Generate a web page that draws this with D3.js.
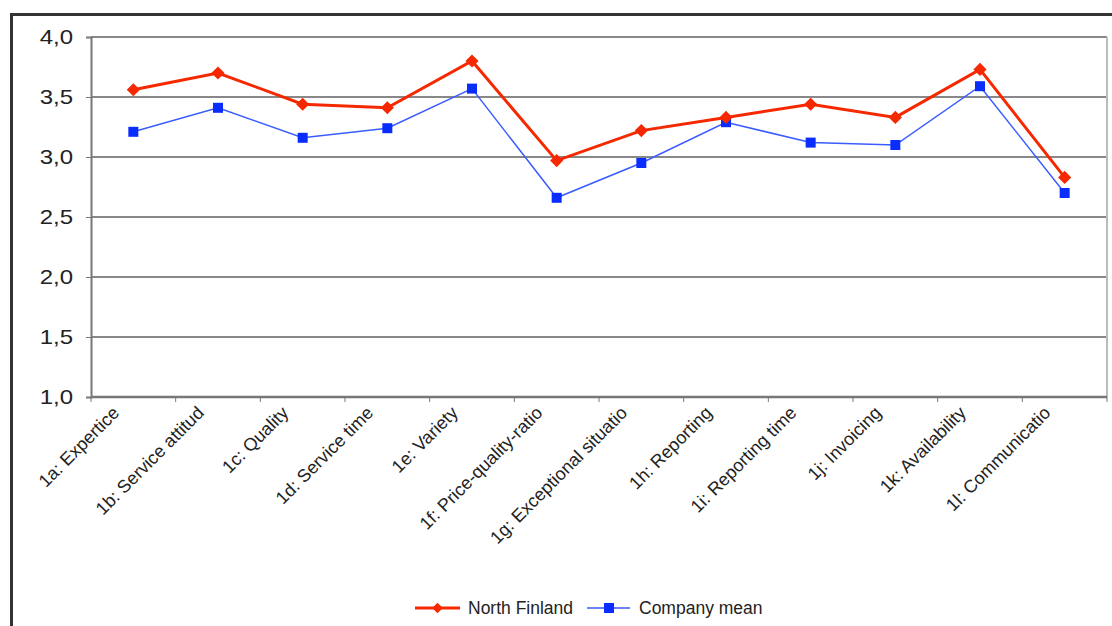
<!DOCTYPE html>
<html>
<head>
<meta charset="utf-8">
<script src="https://d3js.org/d3.v7.min.js"></script>
<style>
  body { margin: 0; background: #fff; }
  text { font-family: "Liberation Sans", Arial, sans-serif; fill: #222; }
</style>
</head>
<body>
<div id="chart"></div>
<script>
// categories and series
var categories = ["1a: Expertice", "1b: Service attitud", "1c: Quality", "1d: Service time",
  "1e: Variety", "1f: Price-quality-ratio", "1g: Exceptional situatio", "1h: Reporting",
  "1i: Reporting time", "1j: Invoicing", "1k: Availability", "1l: Communicatio"];
var northFinland = [3.56, 3.70, 3.44, 3.41, 3.80, 2.97, 3.22, 3.33, 3.44, 3.33, 3.73, 2.83];
var companyMean = [3.21, 3.41, 3.16, 3.24, 3.57, 2.66, 2.95, 3.29, 3.12, 3.10, 3.59, 2.70];
var yTicks = [1.0, 1.5, 2.0, 2.5, 3.0, 3.5, 4.0];

var svgWidth = 1112, svgHeight = 626;
var margin = { top: 37, right: 5, bottom: 229, left: 91 };
var width = svgWidth - margin.left - margin.right;
var height = svgHeight - margin.top - margin.bottom;

var svg = d3.select("#chart").append("svg")
  .attr("width", svgWidth)
  .attr("height", svgHeight);

// outer frame (top and left edges visible)
svg.append("path")
  .attr("d", "M11.5,626 V14.5 H1112")
  .attr("fill", "none")
  .attr("stroke", "#333")
  .attr("stroke-width", 3);

var g = svg.append("g")
  .attr("transform", `translate(${margin.left}, ${margin.top})`);

var x = d3.scaleBand().domain(categories).range([0, width]);
var y = d3.scaleLinear().domain([1, 4]).range([height, 0]);
var cx = d => x(d) + x.bandwidth() / 2;

// grid lines
g.selectAll(".grid")
  .data(yTicks)
  .enter()
  .append("line")
  .attr("x1", 0).attr("x2", width)
  .attr("y1", d => y(d)).attr("y2", d => y(d))
  .attr("stroke", "#888")
  .attr("stroke-width", 2);

// right border of plot area
g.append("line")
  .attr("x1", width).attr("x2", width)
  .attr("y1", 0).attr("y2", height)
  .attr("stroke", "#bbb")
  .attr("stroke-width", 2);

// y axis (labels a bit wide, like the original)
var leftAxis = d3.axisLeft(y)
  .tickValues(yTicks)
  .tickSize(5)
  .tickFormat(d => d3.format(".1f")(d).replace(".", ","));
var yAxis = g.append("g").call(leftAxis);
yAxis.select(".domain").attr("stroke", "#777").attr("stroke-width", 2);
yAxis.selectAll(".tick line").attr("stroke", "#777");
yAxis.selectAll("text")
  .attr("font-size", 20)
  .attr("fill", "#222")
  .attr("font-family", "Liberation Sans, Arial, sans-serif")
  .attr("x", -15)
  .attr("transform", "scale(1.2,1)");

// x axis ticks at band boundaries
var boundaries = d3.range(categories.length + 1).map(i => i * x.bandwidth());
var xAxisG = g.append("g").attr("transform", `translate(0, ${height})`);
xAxisG.append("line")
  .attr("x1", 0).attr("x2", width)
  .attr("stroke", "#777").attr("stroke-width", 2.5);
xAxisG.selectAll(".xt")
  .data(boundaries)
  .enter()
  .append("line")
  .attr("x1", d => d).attr("x2", d => d)
  .attr("y1", 0).attr("y2", 5)
  .attr("stroke", "#777");

// x labels, rotated, clipped just under the axis
svg.append("clipPath").attr("id", "labclip")
  .append("rect")
  .attr("x", -200).attr("y", height + 4)
  .attr("width", width + 400).attr("height", 300);
xAxisG.append("g")
  .attr("clip-path", "url(#labclip)")
  .attr("transform", `translate(0, ${-height})`)
  .selectAll("text")
  .data(categories)
  .enter()
  .append("text")
  .attr("transform", d => `translate(${cx(d) - 13}, ${height + 17}) rotate(-45)`)
  .attr("text-anchor", "end")
  .attr("font-size", 18)
  .attr("fill", "#222")
  .text(d => d);

// lines and markers
var line = d3.line().x((d, i) => cx(categories[i])).y(d => y(d));

g.append("path")
  .datum(companyMean)
  .attr("d", line)
  .attr("fill", "none")
  .attr("stroke", "#3a5cff")
  .attr("stroke-width", 1.5);

g.selectAll(".sq")
  .data(companyMean)
  .enter()
  .append("rect")
  .attr("x", (d, i) => cx(categories[i]) - 5)
  .attr("y", d => y(d) - 5)
  .attr("width", 10).attr("height", 10)
  .attr("fill", "#0a2dff");

g.append("path")
  .datum(northFinland)
  .attr("d", line)
  .attr("fill", "none")
  .attr("stroke", "#f52800")
  .attr("stroke-width", 3);

var diamond = d3.symbol().type(d3.symbolDiamond2).size(110);
g.selectAll(".dm")
  .data(northFinland)
  .enter()
  .append("path")
  .attr("d", diamond)
  .attr("transform", (d, i) => `translate(${cx(categories[i])}, ${y(d)})`)
  .attr("fill", "#f52800");

// legend
var legend = svg.append("g").attr("transform", "translate(0, 608)");
legend.append("line").attr("x1", 415).attr("x2", 460)
  .attr("stroke", "#f52800").attr("stroke-width", 3);
legend.append("path").attr("d", d3.symbol().type(d3.symbolDiamond2).size(70))
  .attr("transform", "translate(437.5, 0)").attr("fill", "#f52800");
legend.append("text").attr("x", 468).attr("y", 6)
  .attr("font-size", 17.5).text("North Finland");
legend.append("line").attr("x1", 587).attr("x2", 630)
  .attr("stroke", "#6a82ff").attr("stroke-width", 2);
legend.append("rect").attr("x", 604).attr("y", -5).attr("width", 10).attr("height", 10)
  .attr("fill", "#0a2dff");
legend.append("text").attr("x", 639).attr("y", 6)
  .attr("font-size", 17.5).text("Company mean");
</script>
</body>
</html>
